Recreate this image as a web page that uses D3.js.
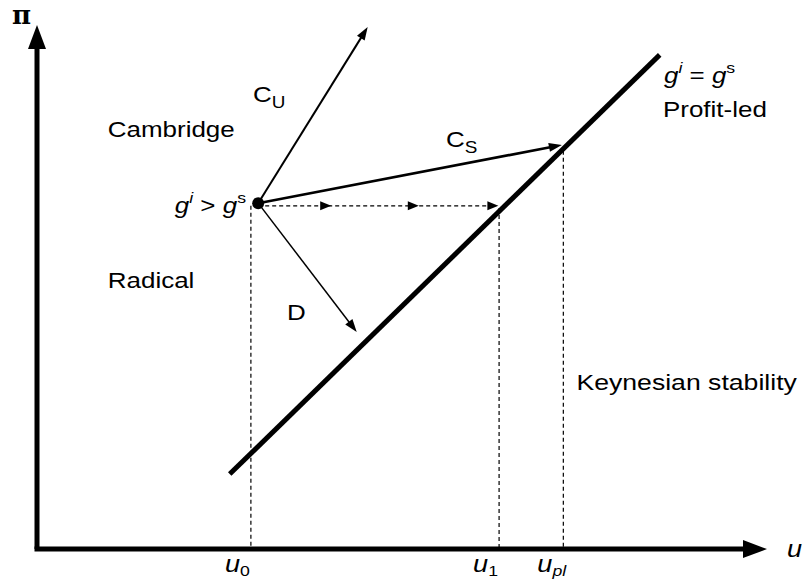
<!DOCTYPE html>
<html><head><meta charset="utf-8">
<script src="https://cdn.jsdelivr.net/npm/d3@7"></script>
<style>body{margin:0;background:#fff}svg{display:block}text{font-family:"Liberation Sans",Arial,sans-serif;fill:#000}</style>
</head><body><svg id="c" width="807" height="584"></svg>
<script>
// Data (in diagram units: u horizontally 0..100, pi vertically 0..100)
const equilibriumLine = [{u:26.4,p:14.3},{u:85.3,p:94.3}];
const startPoint = {u:30.3,p:66.0};
const arrows = [
  {name:"CU", to:{u:45.3,p:99.6}, w:2},
  {name:"CS", to:{u:71.9,p:77.1}, w:2.6},
  {name:"D",  to:{u:43.8,p:41.4}, w:1.5}
];
const dashedPath = {from:{u:30.3,p:65.5}, to:{u:63.2,p:65.5}, heads:[40.3,52.3,63.2]};
const uTicks = [
  {label:"0", u:29.3, top:65.5},
  {label:"1", u:63.3, top:65.1},
  {label:"pl", u:72.1, top:76.0}
];
const labels = [
  {t:"Cambridge", u:9.7, p:78.6},
  {t:"Radical", u:9.7, p:49.8},
  {t:"Keynesian stability", u:73.9, p:30.3}
];

const svg = d3.select("#c");
const x = d3.scaleLinear().domain([0,100]).range([37,767]);
const y = d3.scaleLinear().domain([0,100]).range([549,25]);

function arrowHead(g, x1,y1,x2,y2,len,wid){
  const a = Math.atan2(y2-y1,x2-x1);
  const bx = x2-len*Math.cos(a), by = y2-len*Math.sin(a);
  const px = Math.sin(a)*wid/2, py = -Math.cos(a)*wid/2;
  g.append("path").attr("d",`M${x2},${y2}L${bx+px},${by+py}L${bx-px},${by-py}Z`).attr("fill","#000");
}

// dashed verticals
uTicks.forEach(d=>{
  svg.append("line").attr("x1",x(d.u)).attr("x2",x(d.u)).attr("y1",y(d.top)).attr("y2",y(0))
    .attr("stroke","#000").attr("stroke-width",1.2).attr("stroke-dasharray","4,3");
});

// axes
svg.append("line").attr("x1",x(0)).attr("y1",y(0)).attr("x2",x(0)).attr("y2",y(100)+16).attr("stroke","#000").attr("stroke-width",5);
arrowHead(svg,x(0),y(0),x(0),y(100),24,18);
svg.append("line").attr("x1",x(0)-2.5).attr("y1",y(0)).attr("x2",x(100)-16).attr("y2",y(0)).attr("stroke","#000").attr("stroke-width",5);
arrowHead(svg,x(0),y(0),x(100),y(0),24,18);

// equilibrium line
svg.append("line").attr("x1",x(equilibriumLine[0].u)).attr("y1",y(equilibriumLine[0].p))
  .attr("x2",x(equilibriumLine[1].u)).attr("y2",y(equilibriumLine[1].p))
  .attr("stroke","#000").attr("stroke-width",5);

// dashed horizontal with arrowheads
svg.append("line").attr("x1",x(dashedPath.from.u)).attr("x2",x(dashedPath.to.u)-4)
  .attr("y1",y(dashedPath.from.p)).attr("y2",y(dashedPath.to.p))
  .attr("stroke","#000").attr("stroke-width",1.2).attr("stroke-dasharray","4,3");
dashedPath.heads.forEach(h=>arrowHead(svg,x(h)-20,y(dashedPath.from.p),x(h),y(dashedPath.from.p),11,9));

// arrows from start point
arrows.forEach(a=>{
  const x1=x(startPoint.u), y1=y(startPoint.p), x2=x(a.to.u), y2=y(a.to.p);
  const ang=Math.atan2(y2-y1,x2-x1);
  svg.append("line").attr("x1",x1).attr("y1",y1).attr("x2",x2-8*Math.cos(ang)).attr("y2",y2-8*Math.sin(ang))
    .attr("stroke","#000").attr("stroke-width",a.w);
  arrowHead(svg,x1,y1,x2,y2,13,9);
});
svg.append("circle").attr("cx",x(startPoint.u)).attr("cy",y(startPoint.p)).attr("r",6).attr("fill","#000");

// text helper with horizontal stretch
function txt(px,py,anchor,sx){
  return svg.append("text").attr("transform",`translate(${px},${py}) scale(${sx||1.18},1)`).attr("text-anchor",anchor||"start").attr("font-size",22);
}
labels.forEach(l=>txt(x(l.u),y(l.p),"start",l.t.length>12?1.21:1.18).text(l.t));

// C_U
let t=txt(253,102); t.append("tspan").text("C"); t.append("tspan").attr("font-size",16).attr("dy",6).text("U");
// C_S
t=txt(446,147); t.append("tspan").text("C"); t.append("tspan").attr("font-size",16).attr("dy",6).text("S");
// D
txt(287,320).text("D");
// g^i > g^s
t=txt(246,213,"end");
t.append("tspan").attr("font-style","italic").text("g");
t.append("tspan").attr("font-style","italic").attr("font-size",15).attr("dy",-10).text("i");
t.append("tspan").attr("dy",10).text(" > ");
t.append("tspan").attr("font-style","italic").text("g");
t.append("tspan").attr("font-size",15).attr("dy",-10).text("s");
// g^i = g^s
t=txt(664,83);
t.append("tspan").attr("font-style","italic").text("g");
t.append("tspan").attr("font-style","italic").attr("font-size",15).attr("dy",-10).text("i");
t.append("tspan").attr("dy",10).text(" = ");
t.append("tspan").attr("font-style","italic").text("g");
t.append("tspan").attr("font-size",15).attr("dy",-10).text("s");
txt(663,117).text("Profit-led");

// u tick labels
uTicks.forEach(d=>{
  const tt=svg.append("text").attr("transform",`translate(${x(d.u)-26},572) scale(1.18,1)`).attr("font-size",23);
  tt.append("tspan").attr("font-style","italic").text("u");
  tt.append("tspan").attr("font-size",15).attr("dy",4).attr("font-style",d.label=="pl"?"italic":"normal").text(d.label);
});
// axis labels
svg.append("text").attr("transform","translate(787,557) scale(1.18,1)").attr("font-size",23).attr("font-style","italic").text("u");
svg.append("text").attr("x",12).attr("y",24).attr("font-size",26).attr("font-weight","bold").style("font-family","'DejaVu Serif',serif").text("π");
</script></body></html>
